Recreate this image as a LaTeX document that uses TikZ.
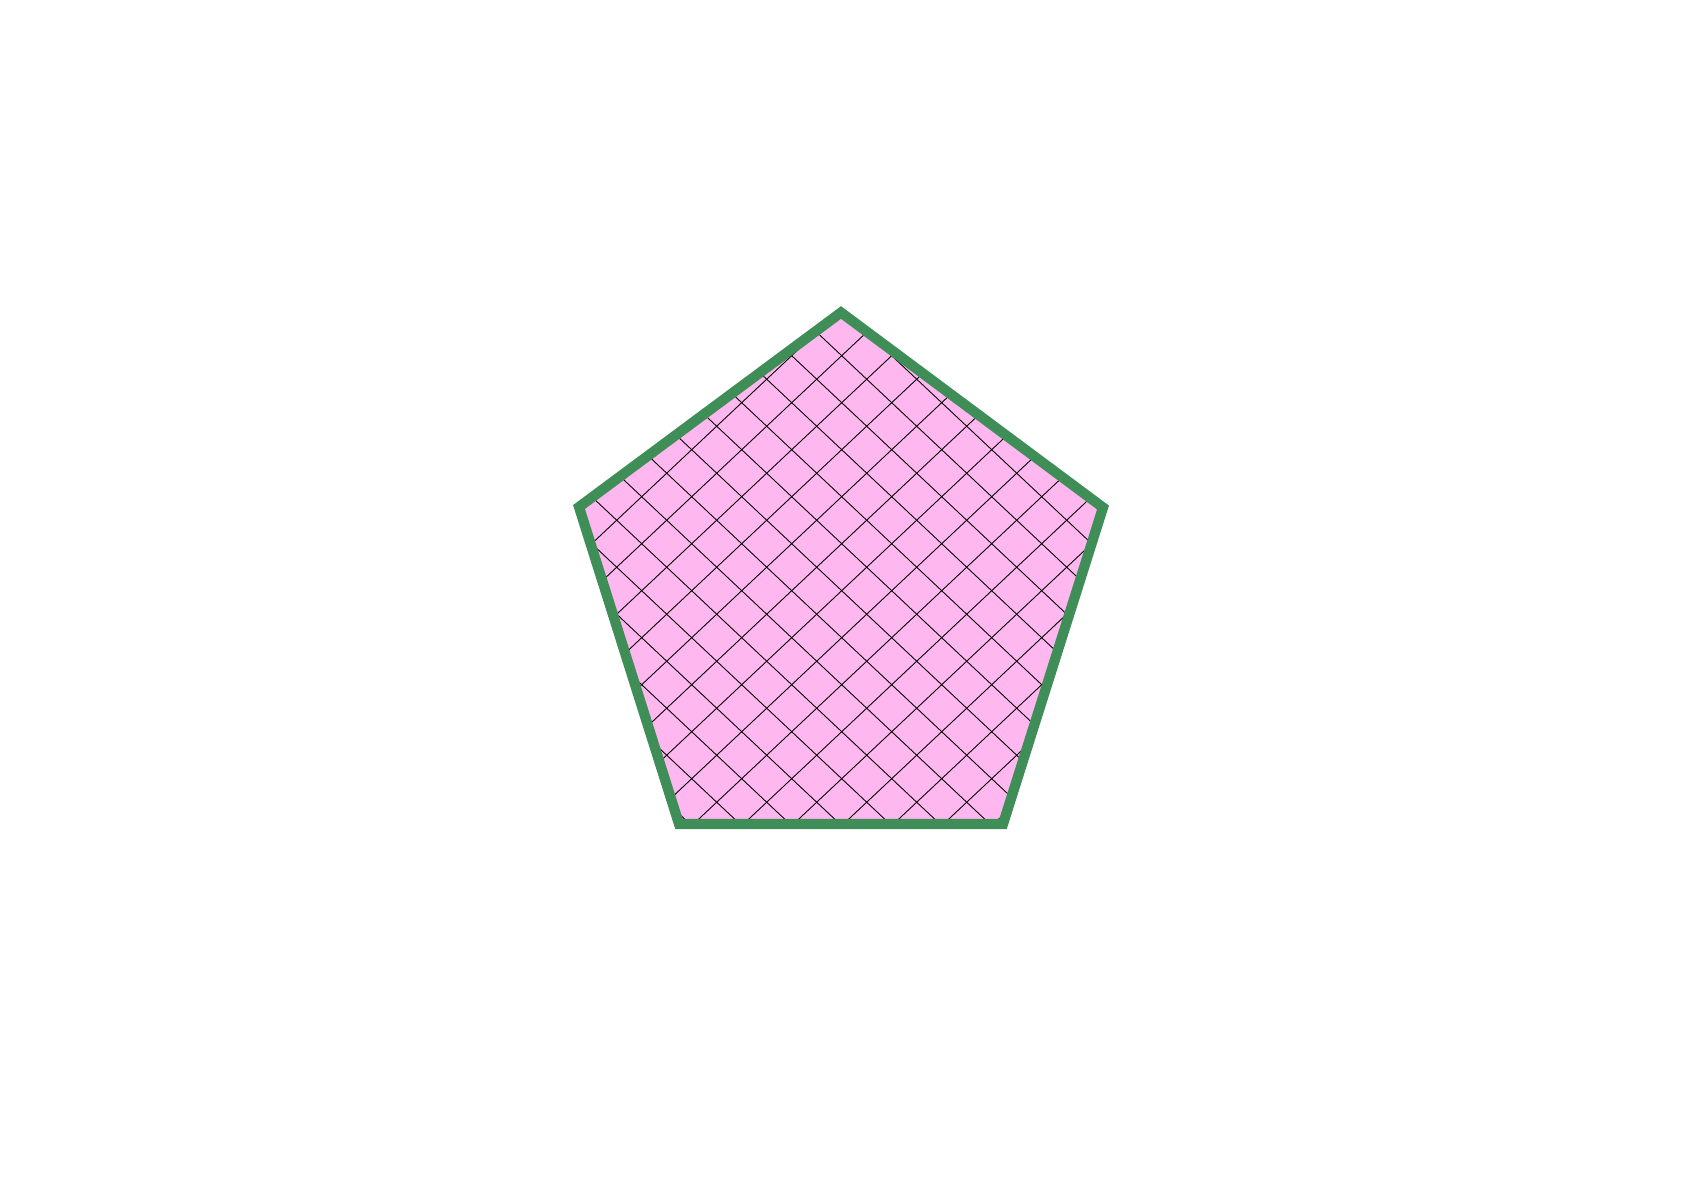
\documentclass[tikz,border=0pt]{standalone}
\definecolor{pent_pink}{RGB}{255,183,239}
\definecolor{pent_green}{RGB}{63,142,88}
\begin{document}
\begin{tikzpicture}[
    x=0.02cm, y=-0.02cm,
    pent_style/.style={draw=pent_green, line width=5.8pt, line join=miter},
    hatch_style/.style={black, line width=0.5pt}
]
\useasboundingbox (0,0) rectangle (1684,1190);
% Pentagon corners
\coordinate (top) at (841,312.5);
\coordinate (right) at (1103,507.5);
\coordinate (br) at (1003,824);
\coordinate (bl) at (679,824);
\coordinate (left) at (579,507);
\fill[pent_pink] (top) -- (right) -- (br) -- (bl) -- (left) -- cycle;
% Cross hatching
\begin{scope}
    \clip (top) -- (right) -- (br) -- (bl) -- (left) -- cycle;
    \foreach \n in {-14,...,14} {
        \draw[hatch_style] ({841.7+25*\n-625},{496.7-23.5*\n-587.5}) -- ++(1250,1175);
        \draw[hatch_style] ({841.7+25*\n-625},{496.7+23.5*\n+587.5}) -- ++(1250,-1175);
    }
\end{scope}
% Outline
\draw[pent_style] (top) -- (right) -- (br) -- (bl) -- (left) -- cycle;
\end{tikzpicture}
\end{document}
